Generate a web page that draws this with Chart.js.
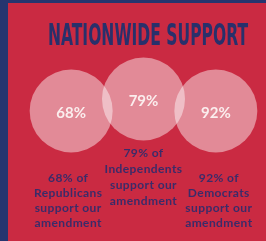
<!DOCTYPE html>
<html>
<head>
<meta charset="utf-8">
<script src="https://cdn.jsdelivr.net/npm/chart.js@4.4.1/dist/chart.umd.min.js"></script>
<style>
  html, body { margin:0; padding:0; }
  body { width:266px; height:241px; background:#26356f; position:relative; overflow:hidden; }
  #panel { position:absolute; left:8px; top:3px; right:0; bottom:0; background:#ca2a42; }
  #wrap { position:absolute; left:0; top:0; width:266px; height:241px; }
</style>
</head>
<body>
<div id="panel"></div>
<div id="wrap"><canvas id="c" width="266" height="241"></canvas></div>
<script>
// --- dados ---
const TITLE = 'NATIONWIDE SUPPORT';
const groups = ['Republicans', 'Independents', 'Democrats'];
const support = [68, 79, 92];
const rowLevel = [0, 1, 0]; // circulo do meio fica mais alto

const NAVY = '#29306b';
const TEXT = '#3b2b69';

// plugin de textos (titulo, % e legendas)
const textPlugin = {
    id: 'texts',
    afterDatasetsDraw(chart) {
        const ctx = chart.ctx;
        const pts = chart.getDatasetMeta(0).data;
        ctx.save();

        // titulo condensado
        ctx.font = 'bold 30px "DejaVu Sans Condensed", "DejaVu Sans"';
        ctx.fillStyle = NAVY;
        ctx.textBaseline = 'alphabetic';
        ctx.textAlign = 'left';
        const w = ctx.measureText(TITLE).width;
        ctx.save();
        ctx.translate(48, 45);
        ctx.scale(200 / w, 1);
        ctx.fillText(TITLE, 0, 0);
        ctx.restore();

        // percentuais
        ctx.textAlign = 'center';
        ctx.textBaseline = 'middle';
        ctx.font = 'bold 15px Lato';
        ctx.fillStyle = '#fbeeee';
        pts.forEach((p, i) => {
            ctx.fillText(support[i] + '%', p.x, p.y + 2);
        });

        // legendas
        const capTop = [178, 153, 178];
        const lh = [15, 16, 15];
        ctx.font = 'bold 12px Lato';
        ctx.letterSpacing = '0.4px';
        ctx.fillStyle = TEXT;
        pts.forEach((p, i) => {
            const lines = [support[i] + '% of', groups[i], 'support our', 'amendment'];
            lines.forEach((t, k) => ctx.fillText(t, p.x - (i === 0 ? 3 : i === 2 ? -3 : 0), capTop[i] + k * lh[i]));
        });
        ctx.restore();
    }
};

new Chart(document.getElementById('c'), {
    type: 'bubble',
    data: {
        labels: groups,
        datasets: [{
            data: groups.map((g, i) => ({ x: g, y: rowLevel[i] })),
            radius: 41.5,
            backgroundColor: 'rgba(255,255,255,0.45)',
            borderWidth: 0,
            clip: false
        }]
    },
    options: {
        responsive: false,
        animation: false,
        events: [],
        layout: { autoPadding: false, padding: { left: 35, right: 14, top: 99, bottom: 130 } },
        scales: {
            x: { type: 'category', offset: true, display: false },
            y: { min: 0, max: 1, display: false }
        },
        plugins: { legend: { display: false }, tooltip: { enabled: false } }
    },
    plugins: [textPlugin]
});
</script>
</body>
</html>
